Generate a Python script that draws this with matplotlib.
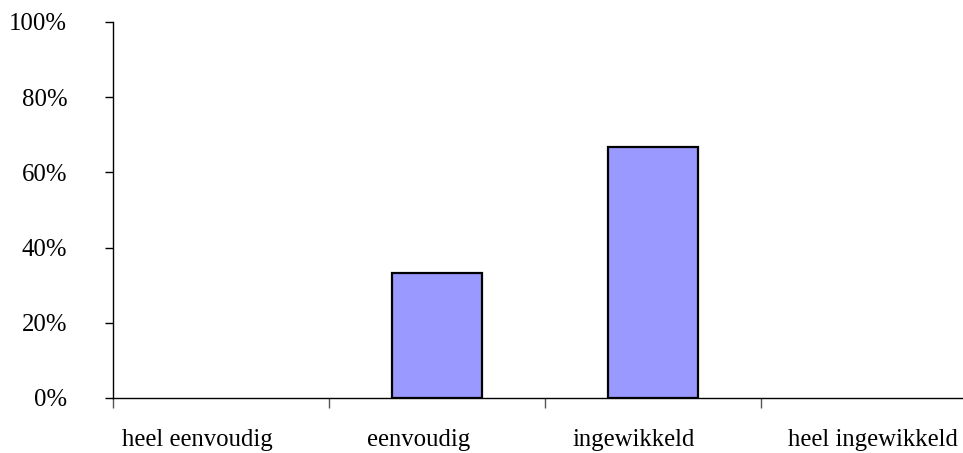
import numpy as np
import matplotlib.pyplot as plt
from matplotlib.transforms import ScaledTranslation

# ================= Data =================
categories = ["heel eenvoudig", "eenvoudig", "ingewikkeld", "heel ingewikkeld"]
percentages = [0, 33.33, 66.67, 0]
y_ticks = [0, 20, 40, 60, 80, 100]

plt.rcParams["font.family"] = ["Liberation Serif", "DejaVu Serif"]

fig = plt.figure(figsize=(9.63, 4.53), dpi=100)
ax = fig.add_axes([113 / 963, 55 / 453, 864 / 963, 376 / 453])

x = np.arange(len(categories))
bars = ax.bar(x, percentages, width=0.42, color="#9999FF", edgecolor="black", linewidth=1.6, zorder=3)
# empty categories get no outline
for b, v in zip(bars, percentages):
    if v == 0:
        b.set_linewidth(0)

ax.set_xlim(-0.5, len(categories) - 0.5)
ax.set_ylim(0, 100)

# y axis
ax.set_yticks(y_ticks)
ax.set_yticklabels([f"{v}%" for v in y_ticks], fontsize=17.8)
ax.tick_params(axis="y", length=6, width=1, pad=27)

# x axis: labels at centers, tick marks between categories
ax.set_xticks(x)
ax.set_xticklabels(categories, fontsize=17.8)
ax.tick_params(axis="x", which="major", length=0, pad=22)
ax.set_xticks(np.arange(-0.5, len(categories), 1), minor=True)
ax.tick_params(axis="x", which="minor", length=7, width=1, color="#555555")

# the labels sit a little left of the category centres in the original
shifts = [-24, -18, -19, 4]
for lab, dx in zip(ax.get_xticklabels(), shifts):
    lab.set_transform(lab.get_transform() + ScaledTranslation(dx / 100, 0, fig.dpi_scale_trans))

for side in ["top", "right"]:
    ax.spines[side].set_visible(False)
ax.spines["left"].set_linewidth(1)
ax.spines["bottom"].set_linewidth(1)

fig.savefig("out.png", dpi=100)
